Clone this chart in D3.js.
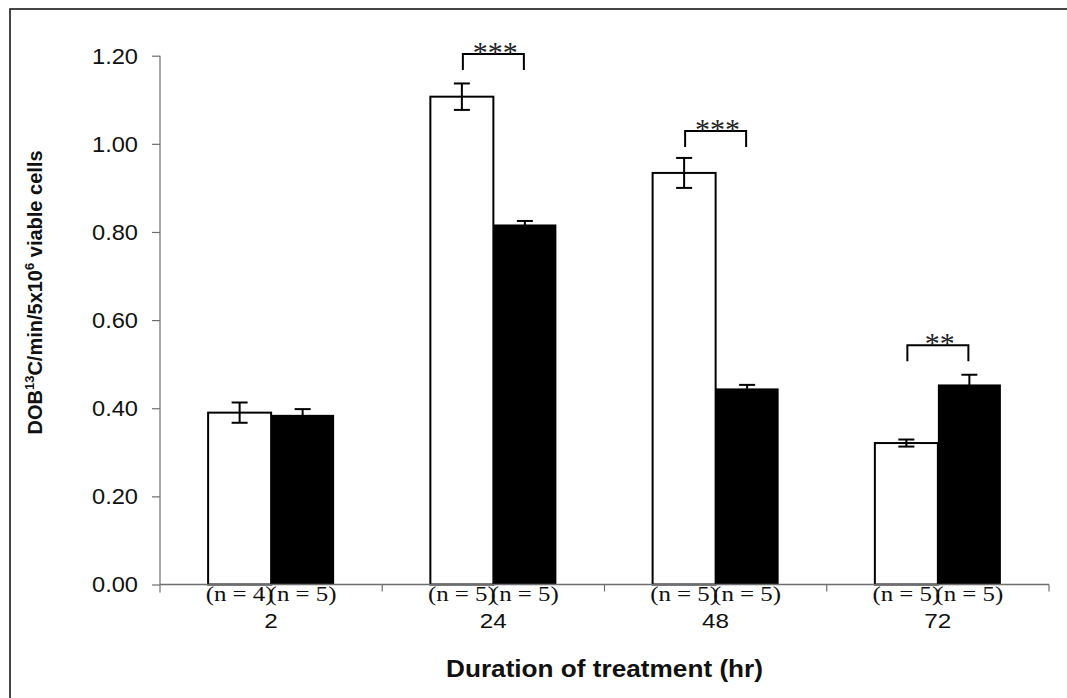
<!DOCTYPE html>
<html>
<head>
<meta charset="utf-8">
<script src="https://cdn.jsdelivr.net/npm/d3@7/dist/d3.min.js"></script>
<style>
  html, body { margin: 0; padding: 0; background: #fff; }
  svg { display: block; }
</style>
</head>
<body>
<svg id="chart" width="1067" height="698"></svg>
<script>
// ---- data ----
const categories = ["2", "24", "48", "72"];
const controlValues = [0.390, 1.107, 0.934, 0.321];
const controlErrors = [0.023, 0.030, 0.034, 0.008];
const treatedValues = [0.385, 0.817, 0.445, 0.454];
const treatedErrors = [0.013, 0.008, 0.008, 0.022];
const controlN = ["(n = 4)", "(n = 5)", "(n = 5)", "(n = 5)"];
const treatedN = ["(n = 5)", "(n = 5)", "(n = 5)", "(n = 5)"];
const yTickValues = [0.00, 0.20, 0.40, 0.60, 0.80, 1.00, 1.20];
const sigLabels = ["", "***", "***", "**"];
const sigLevels = [null, 1.204, 1.029, 0.543];
const xTitle = "Duration of treatment (hr)";

// ---- layout ----
const svg = d3.select("#chart");
const plotLeft = 160, plotRight = 1049, plotTop = 55.7, plotBottom = 584.5;
const axisColor = "#6e6e6e";

// frame (only top/left visible in reference)
svg.append("rect").attr("x", 10).attr("y", 9).attr("width", 1200).attr("height", 900)
  .attr("fill", "none").attr("stroke", "#1a1a1a").attr("stroke-width", 1.6);

const y = d3.scaleLinear().domain([0, 1.2]).range([plotBottom, plotTop]);
const x0 = d3.scaleBand().domain(categories).range([plotLeft, plotRight]).paddingInner(0.433).paddingOuter(0.2165);
const x1 = d3.scaleBand().domain(["control", "treated"]).range([0, x0.bandwidth()]).padding(0);

const rows = categories.map((c, i) => ({
  cat: c,
  bars: [
    { key: "control", v: controlValues[i], e: controlErrors[i], n: controlN[i] },
    { key: "treated", v: treatedValues[i], e: treatedErrors[i], n: treatedN[i] }
  ],
  sig: sigLabels[i], level: sigLevels[i]
}));

// y axis
const yAxis = d3.axisLeft(y).tickValues(yTickValues).tickFormat(d3.format(".2f"))
  .tickSize(8).tickSizeOuter(0).tickPadding(14);
const ya = svg.append("g").attr("transform", `translate(${plotLeft},0)`).call(yAxis);
ya.select(".domain").remove();
ya.selectAll(".tick line").attr("stroke", axisColor).attr("stroke-width", 1.2);
ya.selectAll(".tick text").attr("font-family", "Liberation Sans, Arial, sans-serif")
  .attr("font-size", 22).attr("fill", "#111").attr("dy", "0.34em")
  .attr("textLength", 46).attr("lengthAdjust", "spacingAndGlyphs");
svg.append("line").attr("x1", plotLeft).attr("x2", plotLeft).attr("y1", y(1.2)).attr("y2", plotBottom + 8)
  .attr("stroke", axisColor).attr("stroke-width", 1.2);

// bars
const g = svg.append("g");
const grp = g.selectAll("g.grp").data(rows).join("g")
  .attr("transform", d => `translate(${x0(d.cat)},0)`);

grp.selectAll("rect").data(d => d.bars).join("rect")
  .attr("x", b => x1(b.key))
  .attr("y", b => y(b.v))
  .attr("width", x1.bandwidth())
  .attr("height", b => y(0) - y(b.v))
  .attr("fill", b => b.key === "control" ? "#fff" : "#000")
  .attr("stroke", "#000")
  .attr("stroke-width", b => b.key === "control" ? 2 : 0);

// x axis line and boundary ticks
svg.append("line").attr("x1", plotLeft).attr("x2", plotRight).attr("y1", plotBottom).attr("y2", plotBottom)
  .attr("stroke", axisColor).attr("stroke-width", 1.4);
const bounds = categories.map(c => x0(c) - x0.step() * x0.paddingInner() / 2).slice(1).concat([plotRight]);
svg.selectAll("line.xt").data(bounds).join("line").attr("class", "xt")
  .attr("x1", d => d).attr("x2", d => d).attr("y1", plotBottom).attr("y2", plotBottom + 7)
  .attr("stroke", axisColor).attr("stroke-width", 1.2);

// error bars
const capW = 16;
const eb = grp.selectAll("g.eb").data(d => d.bars).join("g").attr("class", "eb")
  .attr("transform", b => `translate(${x1(b.key) + x1.bandwidth() / 2},0)`);
eb.append("line").attr("x1", 0).attr("x2", 0).attr("y1", b => y(b.v + b.e)).attr("y2", b => y(b.v - b.e))
  .attr("stroke", "#000").attr("stroke-width", 2);
eb.append("line").attr("x1", -capW / 2).attr("x2", capW / 2).attr("y1", b => y(b.v + b.e)).attr("y2", b => y(b.v + b.e))
  .attr("stroke", "#000").attr("stroke-width", 2);
eb.append("line").attr("x1", -capW / 2).attr("x2", capW / 2).attr("y1", b => y(b.v - b.e)).attr("y2", b => y(b.v - b.e))
  .attr("stroke", "#000").attr("stroke-width", 2);

// n labels
grp.selectAll("text.n").data(d => d.bars).join("text").attr("class", "n")
  .attr("x", b => x1(b.key) + x1.bandwidth() / 2)
  .attr("y", plotBottom + 16.5)
  .attr("text-anchor", "middle")
  .attr("font-family", "Liberation Serif, Times New Roman, serif")
  .attr("font-size", 21).attr("fill", "#111")
  .attr("textLength", 68).attr("lengthAdjust", "spacingAndGlyphs")
  .text(b => b.n);

// category labels
grp.append("text")
  .attr("x", x0.bandwidth() / 2).attr("y", plotBottom + 43)
  .attr("text-anchor", "middle")
  .attr("font-family", "Liberation Sans, Arial, sans-serif")
  .attr("font-size", 21).attr("fill", "#111")
  .attr("textLength", d => d.cat.length * 13.5).attr("lengthAdjust", "spacingAndGlyphs")
  .text(d => d.cat);

// significance brackets
const sig = grp.filter(d => d.level != null);
const legLen = 16;
sig.append("path")
  .attr("d", d => {
    const xl = x1("control") + x1.bandwidth() / 2 + 1;
    const xr = x1("treated") + x1.bandwidth() / 2 - 1;
    const yt = y(d.level);
    return `M${xl},${yt + legLen}V${yt}H${xr}V${yt + legLen}`;
  })
  .attr("fill", "none").attr("stroke", "#000").attr("stroke-width", 2);
sig.append("text")
  .attr("x", x0.bandwidth() / 2 + 2)
  .attr("y", d => y(d.level) + 8)
  .attr("text-anchor", "middle")
  .attr("font-family", "Liberation Serif, Times New Roman, serif")
  .attr("font-size", 29).attr("fill", "#222")
  .attr("textLength", d => d.sig.length * 15).attr("lengthAdjust", "spacingAndGlyphs")
  .text(d => d.sig);

// axis titles
svg.append("text")
  .attr("x", (plotLeft + plotRight) / 2).attr("y", 677)
  .attr("text-anchor", "middle")
  .attr("font-family", "Liberation Sans, Arial, sans-serif")
  .attr("font-weight", "bold").attr("font-size", 23).attr("fill", "#111")
  .attr("textLength", 317).attr("lengthAdjust", "spacingAndGlyphs")
  .text(xTitle);

const yTitle = svg.append("text")
  .attr("transform", "translate(42,292.5) rotate(-90)")
  .attr("text-anchor", "middle")
  .attr("font-family", "Liberation Sans, Arial, sans-serif")
  .attr("font-weight", "bold").attr("font-size", 20).attr("fill", "#111");
yTitle.append("tspan").text("DOB");
yTitle.append("tspan").attr("font-size", 13).attr("dy", "-0.6em").text("13");
yTitle.append("tspan").attr("dy", "0.4em").text("C/min/5x10");
yTitle.append("tspan").attr("font-size", 13).attr("dy", "-0.6em").text("6");
yTitle.append("tspan").attr("dy", "0.4em").text(" viable cells");
</script>
</body>
</html>
